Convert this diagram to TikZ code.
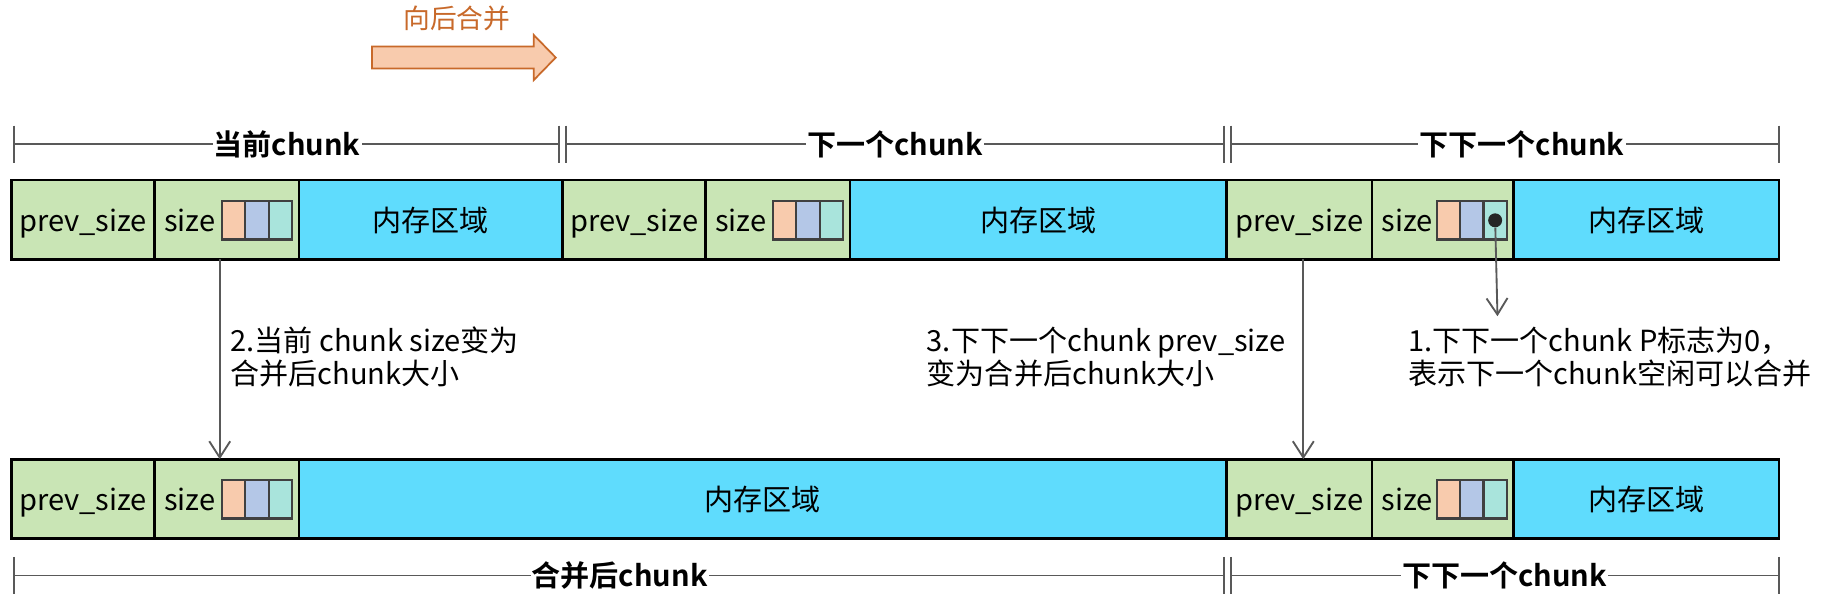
\documentclass[tikz,border=0pt]{standalone}
\usepackage{fontspec}
\setmainfont{Noto Sans CJK SC}[BoldFont={Noto Sans CJK SC Bold}]
\usetikzlibrary{arrows.meta}
\definecolor{hdrgreen}{HTML}{C9E5B5}
\definecolor{memblue}{HTML}{5FDCFD}
\definecolor{flagA}{HTML}{F8CBAD}
\definecolor{flagB}{HTML}{B4C7E7}
\definecolor{flagC}{HTML}{A9E4DC}
\definecolor{flaggray}{HTML}{404040}
\definecolor{dimgray}{HTML}{595959}
\definecolor{arrowfill}{HTML}{F8CBAD}
\definecolor{arrowdraw}{HTML}{C8692A}
\tikzset{
  cell/.style={draw=black, line width=2.2pt, minimum height=68pt, inner sep=0pt, outer sep=0pt, anchor=north west, text height=20pt, text depth=0pt, font=\fontsize{25}{28}\selectfont},
  hdr/.style={cell, fill=hdrgreen},
  mem/.style={cell, fill=memblue},
  txt/.style={inner sep=0pt, font=\fontsize{25}{28}\selectfont},
  flag/.style={draw=flaggray, line width=1.8pt, minimum width=20pt, minimum height=33pt, inner sep=0pt, outer sep=0pt, anchor=north west},
  dimline/.style={draw=dimgray, line width=1.6pt},
  dimlbl/.style={fill=white, inner xsep=1pt, inner ysep=2pt, font=\fontsize{25}{28}\selectfont\bfseries},
  conn/.style={draw=dimgray, line width=1.6pt, -{Straight Barb[length=14pt,width=18pt,line width=1.6pt]}},
  note/.style={align=left, inner sep=0pt, anchor=west, font=\fontsize{25}{29}\selectfont},
}
\newcommand\chunkhead[5]{%
  \node[hdr, minimum width={(#3-#2)*1pt}] (#1p) at (#2,#5) {prev\_size};
  \node[hdr, minimum width={(#4-#3)*1pt}] (#1s) at (#3,#5) {};
  \node[txt, anchor=base west] (#1st) at (#3+8,#5+44) {size};
  \node[flag, fill=flagA] (#1fa) at (#4-66,#5+18) {};
  \node[flag, fill=flagB] (#1fb) at (#4-46,#5+18) {};
  \node[flag, fill=flagC] (#1fc) at (#4-26,#5+18) {};
}
\newcommand\dimseg[2]{%
  \draw[dimline] (#1) -- (#2);
  \draw[dimline] ([yshift=16pt]#1) -- ([yshift=-16pt]#1);
  \draw[dimline] ([yshift=16pt]#2) -- ([yshift=-16pt]#2);
}
\begin{document}
\begin{tikzpicture}[x=1pt,y=-1pt]
\useasboundingbox[fill=white] (0,0) rectangle (1568,521);

% merge direction arrow
\draw[fill=arrowfill, draw=arrowdraw, line width=1.5pt, line join=miter]
  (320,40) -- (459,40) -- (459,30) -- (478,49.5) -- (459,69) -- (459,59) -- (320,59) -- cycle;
\node[text=arrowdraw, font=\fontsize{23}{26}\selectfont] (mergelbl) at (393,16) {向后合并};

% top dimension lines
\coordinate (t1a) at (12,124);   \coordinate (t1b) at (481,124);
\coordinate (t2a) at (487,124);  \coordinate (t2b) at (1053,124);
\coordinate (t3a) at (1059,124); \coordinate (t3b) at (1530,124);
\dimseg{t1a}{t1b}
\dimseg{t2a}{t2b}
\dimseg{t3a}{t3b}
\node[dimlbl] (tl1) at (247,124) {当前chunk};
\node[dimlbl] (tl2) at (770,124) {下一个chunk};
\node[dimlbl] (tl3) at (1309,124) {下下一个chunk};

% top row
\chunkhead{a}{10}{133}{257}{155}
\node[mem, minimum width=227pt] (am) at (257,155) {内存区域};
\chunkhead{b}{484}{607}{731}{155}
\node[mem, minimum width=324pt] (bm) at (731,155) {内存区域};
\chunkhead{c}{1055}{1180}{1302}{155}
\node[mem, minimum width=228pt] (cm) at (1302,155) {内存区域};

% bottom row
\chunkhead{d}{10}{133}{257}{395}
\node[mem, minimum width=798pt] (dm) at (257,395) {内存区域};
\chunkhead{e}{1055}{1180}{1302}{395}
\node[mem, minimum width=228pt] (em) at (1302,395) {内存区域};

% P flag dot and connectors
\node[circle, fill=black!85, inner sep=0pt, minimum size=12pt] (dot) at (cfc.center) {};
\coordinate (a1e) at (1288,272);
\draw[conn] (dot) -- (a1e);
\draw[conn] ([xshift=-6pt]as.south) -- ([xshift=-6pt]ds.north);
\draw[conn] ([xshift=3.5pt]cp.south) -- ([xshift=3.5pt]ep.north);

% notes
\node[note] (n2) at (198,307) {2.当前 chunk size变为\\合并后chunk大小};
\node[note] (n3) at (797,307) {3.下下一个chunk prev\_size\\变为合并后chunk大小};
\node[note] (n1) at (1211,307) {1.下下一个chunk P标志为0，\\表示下一个chunk空闲可以合并};

% bottom dimension lines
\coordinate (b1a) at (12,495);   \coordinate (b1b) at (1053,495);
\coordinate (b2a) at (1059,495); \coordinate (b2b) at (1530,495);
\dimseg{b1a}{b1b}
\dimseg{b2a}{b2b}
\node[dimlbl] (bl1) at (533,495) {合并后chunk};
\node[dimlbl] (bl2) at (1294,495) {下下一个chunk};
\end{tikzpicture}
\end{document}
